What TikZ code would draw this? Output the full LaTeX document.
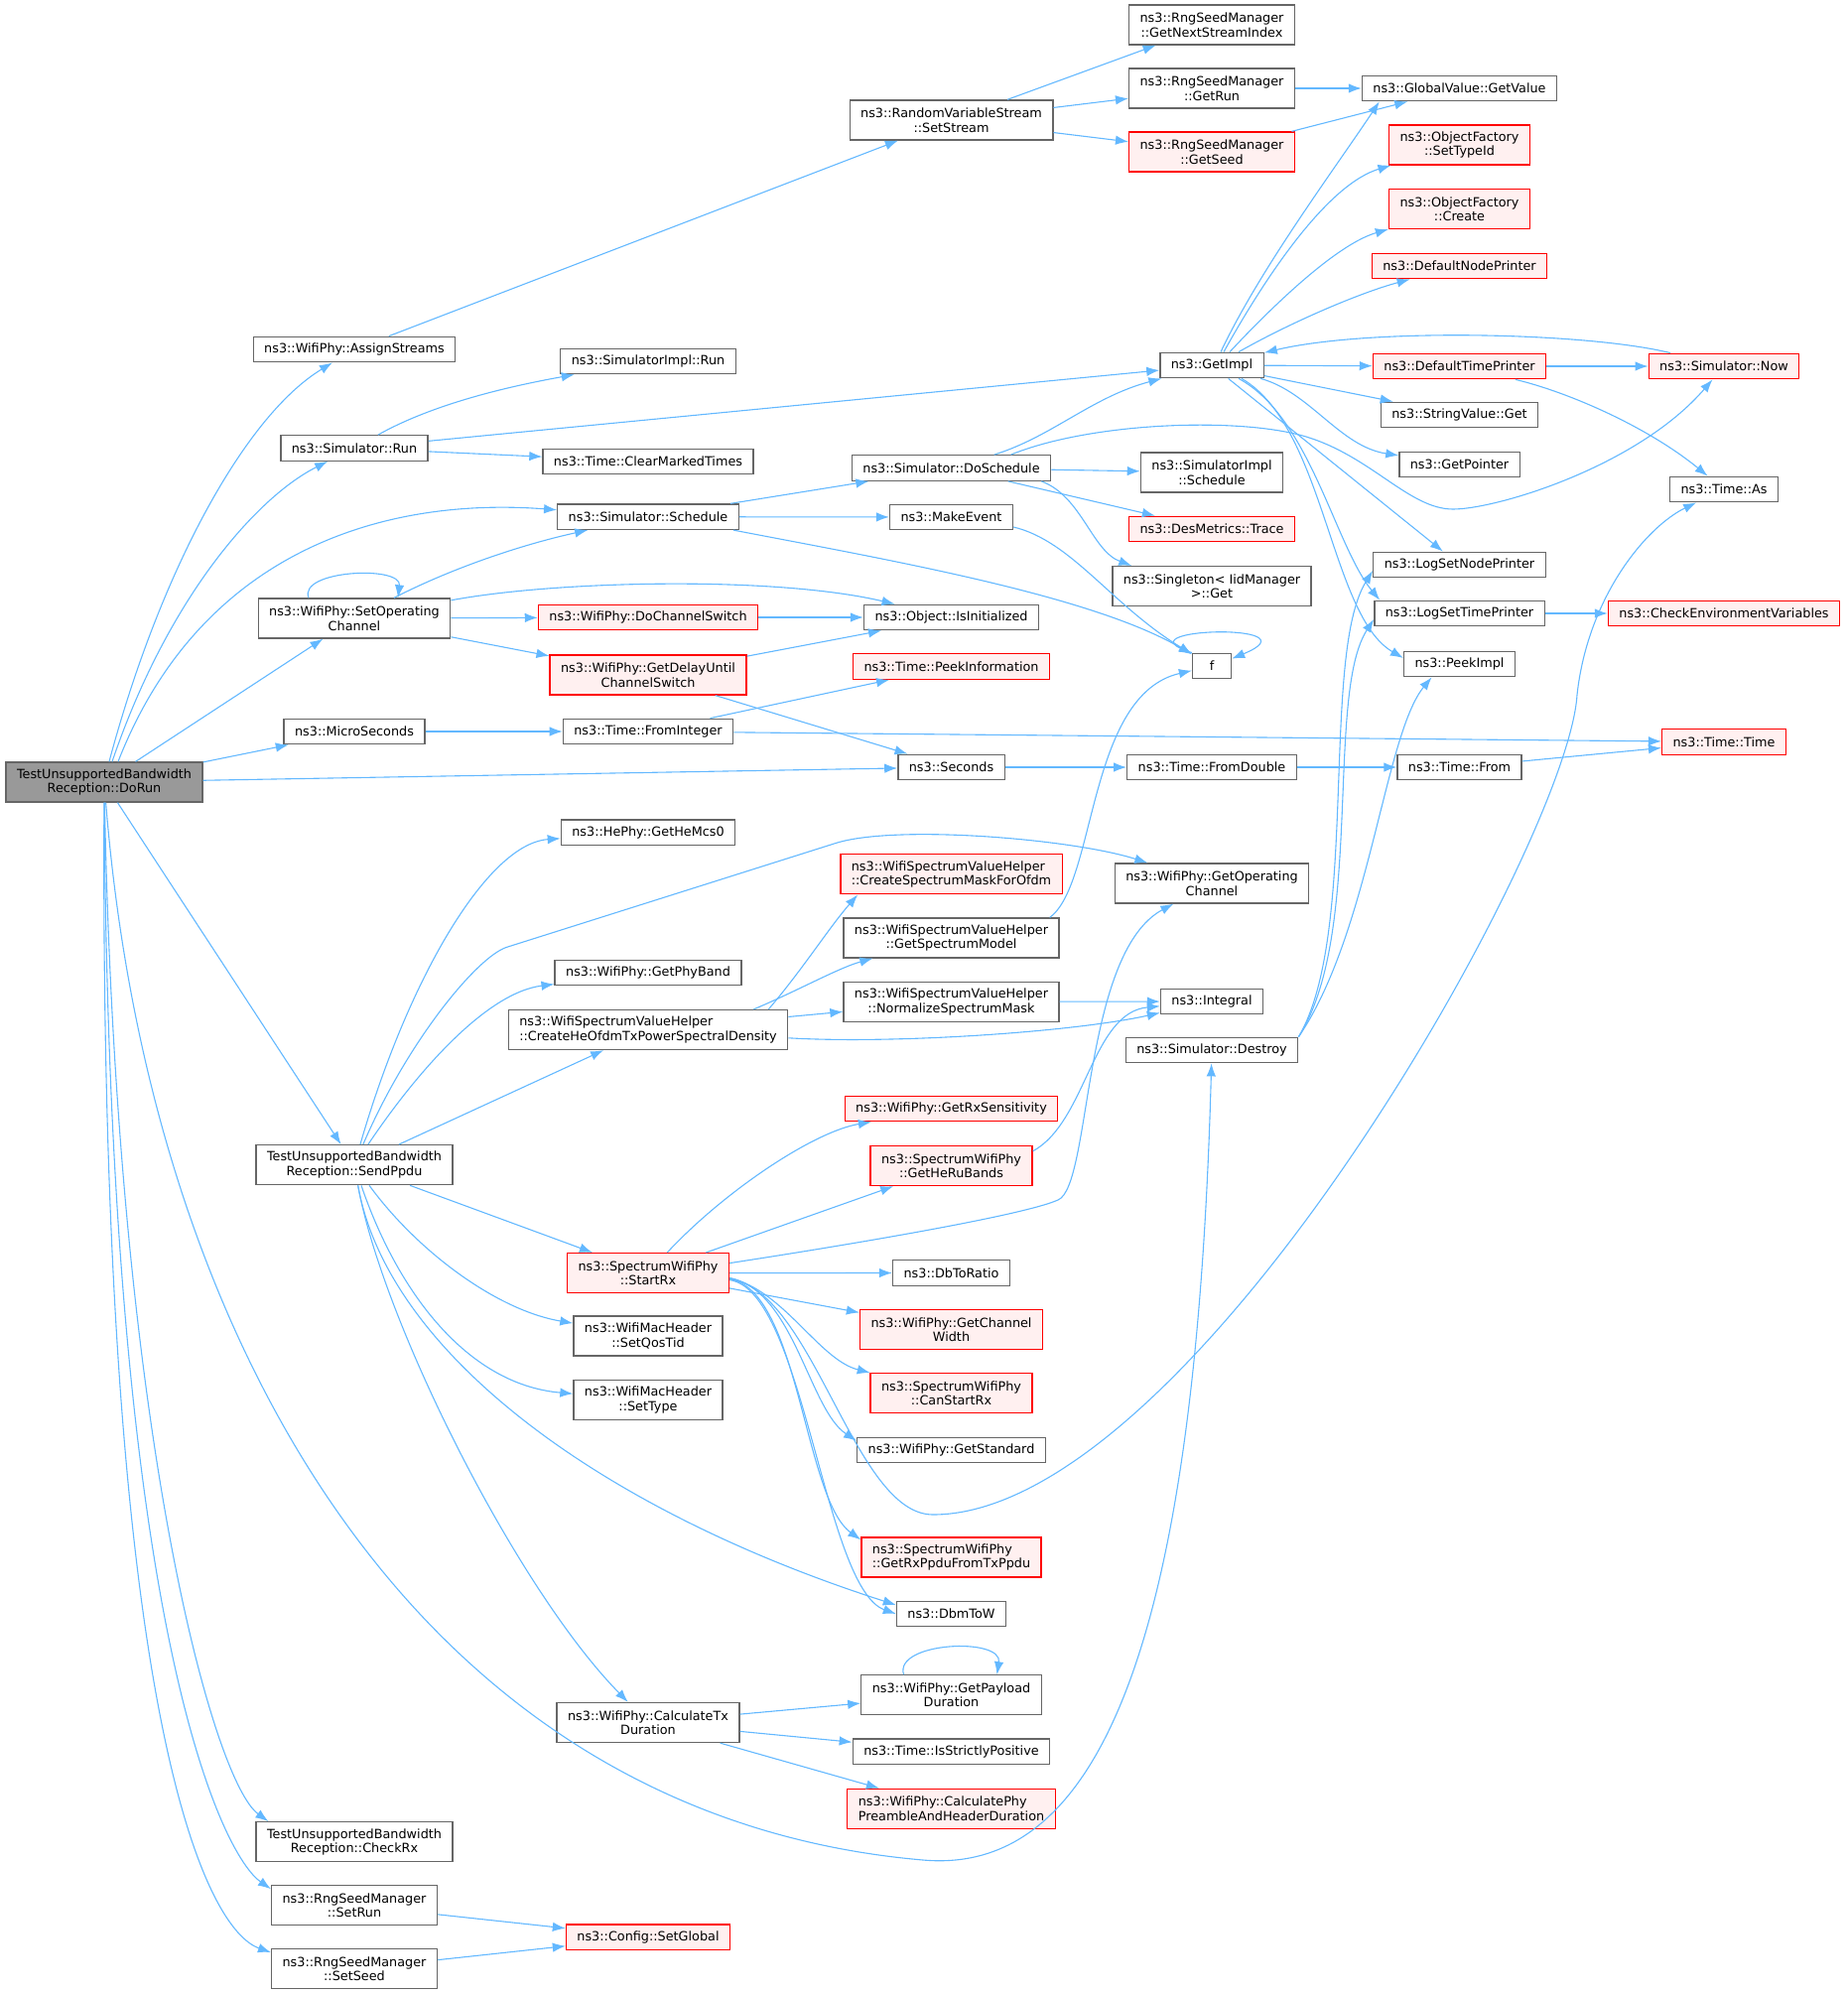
\documentclass[tikz,border=0pt]{standalone}
\usepackage{fontspec}
\setmainfont{DejaVu Sans}
\usetikzlibrary{arrows.meta}
\usetikzlibrary{calc}
\definecolor{edgeblue}{HTML}{63B8FF}
\definecolor{boxgray}{HTML}{666666}
\definecolor{redfill}{HTML}{FFF0F0}
\definecolor{rootfill}{HTML}{999999}

\begin{document}
\begin{tikzpicture}[x=1pt,y=-1pt,inner xsep=11pt,inner ysep=2pt,>={Latex[length=13pt,width=9.5pt]},
  fn/.style={draw=boxgray,fill=white,line width=1.3pt,minimum height=25.5pt,align=center,font=\fontsize{12.8}{14.5}\selectfont},
  fnred/.style={fn,draw=red,fill=redfill},
  fnroot/.style={fn,fill=rootfill},
  two/.style={minimum height=40pt},
  call/.style={->,draw=edgeblue,line width=1.1pt}]
\useasboundingbox (0,0) rectangle (1861,2009);

% functions, one column per call depth
\draw node [fnroot,two] (dorun) at (105,788) {TestUnsupportedBandwidth\\Reception::DoRun};

\draw node [fn]     (assign)   at (357,352)    {ns3::WifiPhy::AssignStreams};
\draw node [fn]     (simrun)   at (357,451.5)  {ns3::Simulator::Run};
\draw node [fn,two] (setopch)  at (357,623)    {ns3::WifiPhy::SetOperating\\Channel};
\draw node [fn]     (micro)    at (357,737)    {ns3::MicroSeconds};
\draw node [fn,two] (sendppdu) at (357,1173.7) {TestUnsupportedBandwidth\\Reception::SendPpdu};
\draw node [fn,two] (checkrx)  at (357,1855.7) {TestUnsupportedBandwidth\\Reception::CheckRx};
\draw node [fn,two] (setrun)   at (357,1919.8) {ns3::RngSeedManager\\::SetRun};
\draw node [fn,two] (setseed)  at (357,1983.7) {ns3::RngSeedManager\\::SetSeed};

\draw node [fn]        (implrun)    at (653,364)    {ns3::SimulatorImpl::Run};
\draw node [fn]        (clearmt)    at (653,465)    {ns3::Time::ClearMarkedTimes};
\draw node [fn]        (schedule)   at (653,520.7)  {ns3::Simulator::Schedule};
\draw node [fnred]     (dochsw)     at (653,622)    {ns3::WifiPhy::DoChannelSwitch};
\draw node [fnred,two] (delayuntil) at (653,680)    {ns3::WifiPhy::GetDelayUntil\\ChannelSwitch};
\draw node [fn]        (fromint)    at (653,737)    {ns3::Time::FromInteger};
\draw node [fn]        (hemcs)      at (653,838.6)  {ns3::HePhy::GetHeMcs0};
\draw node [fn]        (phyband)    at (653,980)    {ns3::WifiPhy::GetPhyBand};
\draw node [fn,two,align=left] (heofdm) at (653,1037.5) {ns3::WifiSpectrumValueHelper\\::CreateHeOfdmTxPowerSpectralDensity};
\draw node [fnred,two] (startrx)    at (653,1282.6) {ns3::SpectrumWifiPhy\\::StartRx};
\draw node [fn,two]    (qostid)     at (653,1346)   {ns3::WifiMacHeader\\::SetQosTid};
\draw node [fn,two]    (settype)    at (653,1410.7) {ns3::WifiMacHeader\\::SetType};
\draw node [fn,two]    (txdur)      at (653,1735.5) {ns3::WifiPhy::CalculateTx\\Duration};
\draw node [fnred]     (setglobal)  at (653,1951.7) {ns3::Config::SetGlobal};

\draw node [fn,two]    (setstream)  at (958.5,121)    {ns3::RandomVariableStream\\::SetStream};
\draw node [fn]        (dosched)    at (958.5,471.5)  {ns3::Simulator::DoSchedule};
\draw node [fn]        (mkevent)    at (958.5,521)    {ns3::MakeEvent};
\draw node [fn]        (isinit)     at (958.5,622)    {ns3::Object::IsInitialized};
\draw node [fnred]     (peekinfo)   at (958.5,671.5)  {ns3::Time::PeekInformation};
\draw node [fn]        (seconds)    at (958.5,773)    {ns3::Seconds};
\draw node [fnred,two,align=left] (maskofdm) at (958.5,880.8) {ns3::WifiSpectrumValueHelper\\::CreateSpectrumMaskForOfdm};
\draw node [fn,two]    (specmodel)  at (958.5,945)    {ns3::WifiSpectrumValueHelper\\::GetSpectrumModel};
\draw node [fn,two]    (normmask)   at (958.5,1009.3) {ns3::WifiSpectrumValueHelper\\::NormalizeSpectrumMask};
\draw node [fnred]     (rxsens)     at (958.5,1117)   {ns3::WifiPhy::GetRxSensitivity};
\draw node [fnred,two] (herubands)  at (958.5,1174.5) {ns3::SpectrumWifiPhy\\::GetHeRuBands};
\draw node [fn]        (dbtoratio)  at (958.5,1282.5) {ns3::DbToRatio};
\draw node [fnred,two] (chwidth)    at (958.5,1339.7) {ns3::WifiPhy::GetChannel\\Width};
\draw node [fnred,two] (canstartrx) at (958.5,1403.7) {ns3::SpectrumWifiPhy\\::CanStartRx};
\draw node [fn]        (standard)   at (958.5,1461)   {ns3::WifiPhy::GetStandard};
\draw node [fnred,two,align=left] (rxppdu) at (958.5,1569) {ns3::SpectrumWifiPhy\\::GetRxPpduFromTxPpdu};
\draw node [fn]        (dbmtow)     at (958.5,1626)   {ns3::DbmToW};
\draw node [fn,two]    (payload)    at (958.5,1707.8) {ns3::WifiPhy::GetPayload\\Duration};
\draw node [fn]        (strictpos)  at (958.5,1764.8) {ns3::Time::IsStrictlyPositive};
\draw node [fnred,two,align=left] (preamble) at (958.5,1822.3) {ns3::WifiPhy::CalculatePhy\\PreambleAndHeaderDuration};

\draw node [fn,two]    (nextstream) at (1221,25)    {ns3::RngSeedManager\\::GetNextStreamIndex};
\draw node [fn,two]    (rngrun)     at (1221,89)    {ns3::RngSeedManager\\::GetRun};
\draw node [fnred,two] (rngseed)    at (1221,153)   {ns3::RngSeedManager\\::GetSeed};
\draw node [fn]        (getimpl)    at (1221,368)   {ns3::GetImpl};
\draw node [fn,two]    (implsched)  at (1221,476)   {ns3::SimulatorImpl\\::Schedule};
\draw node [fnred]     (trace)      at (1221,533)   {ns3::DesMetrics::Trace};
\draw node [fn,two]    (singleton)  at (1221,590.6) {ns3::Singleton< IidManager\\ >::Get};
\draw node [fn,minimum width=39pt] (f) at (1221,671) {f};
\draw node [fn]        (fromdbl)    at (1221,773)   {ns3::Time::FromDouble};
\draw node [fn,two]    (getopch)    at (1221,890)   {ns3::WifiPhy::GetOperating\\Channel};
\draw node [fn]        (integral)   at (1221,1009)  {ns3::Integral};
\draw node [fn]        (destroy)    at (1221,1058)  {ns3::Simulator::Destroy};

\draw node [fn]        (getvalue)   at (1470.5,89)    {ns3::GlobalValue::GetValue};
\draw node [fnred,two] (settypeid)  at (1470.5,146)   {ns3::ObjectFactory\\::SetTypeId};
\draw node [fnred,two] (create)     at (1470.5,210.7) {ns3::ObjectFactory\\::Create};
\draw node [fnred]     (nodeprn)    at (1470.5,268)   {ns3::DefaultNodePrinter};
\draw node [fnred]     (timeprn)    at (1470.5,369)   {ns3::DefaultTimePrinter};
\draw node [fn]        (strget)     at (1470.5,418)   {ns3::StringValue::Get};
\draw node [fn]        (getptr)     at (1470.5,468)   {ns3::GetPointer};
\draw node [fn]        (lognode)    at (1470.5,569)   {ns3::LogSetNodePrinter};
\draw node [fn]        (logtime)    at (1470.5,618)   {ns3::LogSetTimePrinter};
\draw node [fn]        (peekimpl)   at (1470.5,669)   {ns3::PeekImpl};
\draw node [fn]        (timefrom)   at (1470.5,773)   {ns3::Time::From};

\draw node [fnred]     (now)        at (1737,369)   {ns3::Simulator::Now};
\draw node [fn]        (timeas)     at (1737,493)   {ns3::Time::As};
\draw node [fnred]     (checkenv)   at (1737,618)   {ns3::CheckEnvironmentVariables};
\draw node [fnred]     (timetime)   at (1737,747.5) {ns3::Time::Time};

% calls of DoRun
\draw [call] ([xshift=5pt]dorun.north) .. controls (160,580) and (245,420) .. (assign);
\draw [call] ([xshift=8pt]dorun.north) .. controls (170,600) and (260,500) .. (simrun);
\draw [call] ([xshift=14pt]dorun.north) .. controls (200,560) and (380,500) .. (schedule);
\draw [call] (dorun) -- (setopch);
\draw [call] (dorun) -- (micro);
\draw [call] (dorun) -- (seconds);
\draw [call] (dorun) -- (sendppdu);
\draw [call] (dorun) .. controls (150,1350) and (420,1830) .. (930,1874) .. controls (1110,1890) and (1205,1650) .. (destroy);
\draw [call] (dorun) .. controls (118,1450) and (215,1795) .. ([xshift=13pt]checkrx.north west);
\draw [call] (dorun) .. controls (110,1650) and (225,1870) .. ([yshift=-4pt]setrun.north west);
\draw [call] (dorun) .. controls (100,1750) and (210,1945) .. ([yshift=-4pt]setseed.north west);

% second level
\draw [call] (assign) -- (setstream);
\draw [call] (setstream) -- (nextstream);
\draw [call] (setstream) -- (rngrun);
\draw [call] (setstream) -- (rngseed);
\draw [call] (rngrun) -- (getvalue);
\draw [call] (rngseed) -- (getvalue);
\draw [call] (simrun) .. controls (440,405) and (520,388) .. (implrun);
\draw [call] (simrun) -- (getimpl);
\draw [call] (simrun) -- (clearmt);
\draw [call] (schedule) -- (dosched);
\draw [call] (schedule) -- (mkevent);
\draw [call] ([xshift=-6pt]schedule.south east) .. controls (900,565) and (1100,600) .. (f);
\draw [call] ([xshift=-46pt]setopch.north) .. controls ($ (setopch.north) + (-57,-28) $) and ($ (setopch.north) + (48,-33) $) .. ([xshift=44pt]setopch.north);
\draw [call] (setopch) .. controls (450,575) and (520,550) .. (schedule);
\draw [call] (setopch) .. controls (560,585) and (780,580) .. (isinit);
\draw [call] (setopch) -- (dochsw);
\draw [call] (setopch) -- (delayuntil);
\draw [call] (dochsw) -- (isinit);
\draw [call] (delayuntil) -- (isinit);
\draw [call] (delayuntil) -- (seconds);
\draw [call] (micro) -- (fromint);
\draw [call] (fromint) -- (peekinfo);
\draw [call] (fromint) -- (timetime);
\draw [call] (seconds) -- (fromdbl);
\draw [call] (fromdbl) -- (timefrom);
\draw [call] (timefrom) -- (timetime);

% scheduler and logging
\draw [call] (dosched) .. controls (1060,440) and (1100,400) .. (getimpl);
\draw [call] ([xshift=60pt]dosched.north) .. controls (1100,425) and (1250,420) .. (1316,440) .. controls (1382,460) and (1420,513) .. (1464,513) .. controls (1508,513) and (1650,470) .. (now);
\draw [call] (dosched) -- (implsched);
\draw [call] (dosched) -- (trace);
\draw [call] ([xshift=-10pt]dosched.south east) .. controls (1090,500) and (1100,555) .. ([xshift=20pt]singleton.north west);
\draw [call] ([yshift=-10pt]mkevent.east) .. controls (1080,545) and (1120,610) .. (f);
\draw [call] (f.north west) .. controls ($ (f.north west) + (-80,-25) $) and ($ (f.north east) + (90,-31) $) .. ([yshift=-6pt]f.north east);
\draw [call] ([xshift=9pt]getimpl.north) .. controls (1270,270) and (1345,170) .. ([xshift=18pt]getvalue.south west);
\draw [call] ([xshift=12pt]getimpl.north) .. controls (1280,270) and (1340,185) .. (settypeid);
\draw [call] ([xshift=18pt]getimpl.north) .. controls (1290,300) and (1350,245) .. (create);
\draw [call] ([xshift=27pt]getimpl.north) .. controls (1300,325) and (1370,295) .. (nodeprn);
\draw [call] (getimpl) -- (timeprn);
\draw [call] (getimpl) -- (strget);
\draw [call] (getimpl) .. controls (1320,395) and (1350,450) .. (getptr);
\draw [call] (getimpl) -- (lognode);
\draw [call] ([xshift=27pt]getimpl.south) .. controls (1320,420) and (1345,550) .. ([xshift=6pt]logtime.north west);
\draw [call] ([xshift=30pt]getimpl.south) .. controls (1335,430) and (1340,620) .. ([yshift=6pt]peekimpl.west);
\draw [call] (now) .. controls (1600,335) and (1380,330) .. (getimpl);
\draw [call] (timeprn) -- (now);
\draw [call] (timeprn) .. controls (1580,395) and (1660,430) .. (timeas);
\draw [call] (logtime) -- (checkenv);
\draw [call] (destroy.north east) .. controls (1370,940) and (1330,660) .. ([yshift=-6pt]lognode.west);
\draw [call] (destroy.north east) .. controls (1375,940) and (1335,700) .. ([yshift=-6pt]logtime.west);
\draw [call] (destroy.north east) .. controls (1380,940) and (1395,740) .. ([xshift=-28pt]peekimpl.south);

% calls of SendPpdu
\draw [call] (sendppdu) .. controls (410,990) and (490,850) .. (hemcs);
\draw [call] (sendppdu) .. controls (410,1050) and (480,965) .. (510,954.5) -- (842,849.5) .. controls (902,830.5) and (1080,845) .. (getopch);
\draw [call] (sendppdu) .. controls (420,1080) and (490,1000) .. (phyband);
\draw [call] (sendppdu) -- (heofdm);
\draw [call] (sendppdu) -- (startrx);
\draw [call] (sendppdu) .. controls (420,1260) and (500,1320) .. (qostid);
\draw [call] (sendppdu) .. controls (400,1300) and (470,1395) .. (settype);
\draw [call] (sendppdu) .. controls (390,1360) and (600,1520) .. ([yshift=9pt]dbmtow.west);
\draw [call] (sendppdu) .. controls (385,1330) and (520,1600) .. (txdur);

\draw [call] ([xshift=-20pt]heofdm.north east) .. controls (810,975) and (835,935) .. ([xshift=18pt]maskofdm.south west);
\draw [call] ([xshift=-35pt]heofdm.north east) .. controls (800,1000) and (845,975) .. ([xshift=30pt]specmodel.south west);
\draw [call] (heofdm) -- (normmask);
\draw [call] (heofdm) .. controls (900,1052) and (1080,1040) .. (integral);
\draw [call] (normmask) -- (integral);
\draw [call] ([xshift=-10pt]specmodel.north east) .. controls (1105,890) and (1095,700) .. (f);

% calls of StartRx
\draw [call] (startrx) .. controls (730,1200) and (820,1140) .. (rxsens);
\draw [call] (startrx) -- (herubands);
\draw [call] ([yshift=10pt]startrx.east) .. controls (850,1255) and (1030,1225) .. (1066,1209) .. controls (1100,1195) and (1090,960) .. (getopch);
\draw [call] (startrx) -- (dbtoratio);
\draw [call] (startrx) -- (chwidth);
\draw [call] ([yshift=-5pt]startrx.east) .. controls (790,1300) and (825,1370) .. (canstartrx);
\draw [call] ([yshift=-5pt]startrx.east) .. controls (800,1300) and (815,1420) .. ([yshift=-4pt]standard.north west);
\draw [call] ([yshift=-6pt]startrx.east) .. controls (805,1300) and (810,1510) .. ([yshift=-3pt]rxppdu.north west);
\draw [call] ([yshift=-7pt]startrx.east) .. controls (810,1300) and (830,1600) .. (dbmtow.west);
\draw [call] ([yshift=-6pt]startrx.east) .. controls (820,1300) and (860,1526) .. (940,1526) .. controls (1200,1526) and (1580,850) .. (1589,700) .. controls (1600,600) and (1660,530) .. (timeas);
\draw [call] ([yshift=-6pt]herubands.north east) .. controls (1095,1130) and (1100,1020) .. (integral);

% calls of CalculateTxDuration and the seed setters
\draw [call] (txdur) -- (payload);
\draw [call] (txdur) -- (strictpos);
\draw [call] (txdur) -- (preamble);
\draw [call] ([xshift=-48pt]payload.north) .. controls ($ (payload.north) + (-58,-33) $) and ($ (payload.north) + (52,-38) $) .. ([xshift=46pt]payload.north);
\draw [call] (setrun) -- (setglobal);
\draw [call] (setseed) -- (setglobal);
\end{tikzpicture}
\end{document}
